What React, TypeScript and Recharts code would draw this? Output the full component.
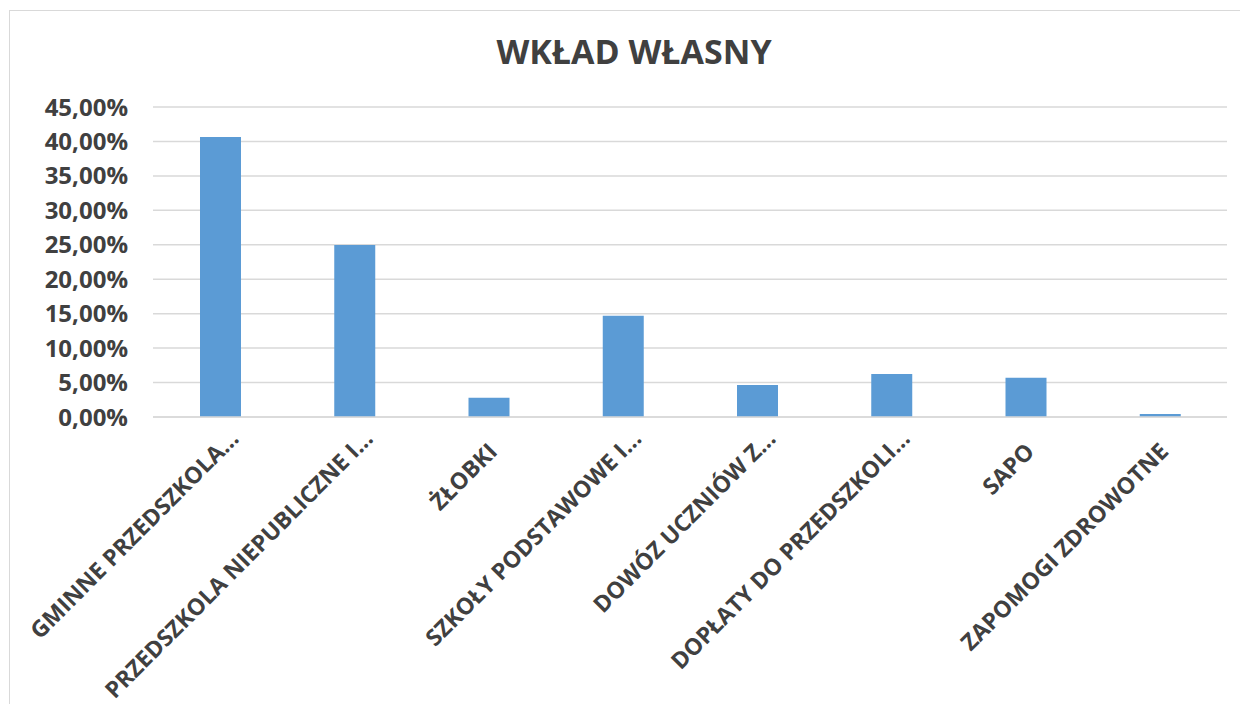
import React from "react";
import { BarChart, Bar, XAxis, YAxis, CartesianGrid } from "recharts";

const categories = [
  "GMINNE PRZEDSZKOLA...",
  "PRZEDSZKOLA NIEPUBLICZNE I...",
  "ŻŁOBKI",
  "SZKOŁY PODSTAWOWE I...",
  "DOWÓZ UCZNIÓW Z...",
  "DOPŁATY DO PRZEDSZKOLI...",
  "SAPO",
  "ZAPOMOGI ZDROWOTNE",
];

const shares = [40.65, 24.95, 2.8, 14.7, 4.65, 6.25, 5.7, 0.45];

const yTicks = [0, 5, 10, 15, 20, 25, 30, 35, 40, 45];

const data = categories.map((name, i) => ({ name, value: shares[i] }));

const textColor = "#404040";
const font = "'Open Sans', 'DejaVu Sans', sans-serif";

const formatPercent = (v: number) => v.toFixed(2).replace(".", ",") + "%";

// rotated category label; Excel pushes truncated labels a bit differently
const CategoryTick = (props: any) => {
  const { x, y, payload } = props;
  const label: string = payload.value;
  const truncated = label.endsWith("...");
  const dx = truncated ? 20 : 10;
  const dy = truncated ? 23 : 36;
  return (
    <text
      transform={`translate(${x + dx}, ${y + dy}) rotate(-45)`}
      textAnchor="end"
      fill={textColor}
      fontFamily={font}
      fontWeight={700}
      fontSize={23}
    >
      {label}
    </text>
  );
};

export default function App() {
  return (
    <div
      style={{
        position: "absolute",
        left: 0,
        top: 0,
        width: 1240,
        height: 704,
        overflow: "hidden",
        background: "#fff",
      }}
    >
      <div
        style={{
          position: "absolute",
          left: 9,
          top: 10,
          width: 1260,
          height: 720,
          border: "1.5px solid #d9d9d9",
          boxSizing: "border-box",
        }}
      />
      <div
        style={{
          position: "absolute",
          left: 0,
          top: 35,
          width: 1268,
          textAlign: "center",
          fontFamily: font,
          fontWeight: 700,
          fontSize: 34,
          lineHeight: "33px",
          color: textColor,
        }}
      >
        WKŁAD WŁASNY
      </div>
      <div style={{ position: "absolute", left: 0, top: 0 }}>
        <BarChart
          width={1240}
          height={704}
          data={data}
          margin={{ top: 107, right: 13, bottom: 0, left: 0 }}
        >
          <CartesianGrid vertical={false} stroke="#d9d9d9" strokeWidth={1.5} />
          <XAxis
            dataKey="name"
            interval={0}
            tickLine={false}
            tickSize={0}
            tickMargin={0}
            axisLine={{ stroke: "#d9d9d9", strokeWidth: 1.5 }}
            tick={<CategoryTick />}
            height={287}
          />
          <YAxis
            width={153}
            domain={[0, 45]}
            ticks={yTicks}
            tickFormatter={formatPercent}
            axisLine={false}
            tickLine={false}
            tickSize={0}
            tickMargin={25}
            tick={{
              fill: textColor,
              fontFamily: font,
              fontWeight: 700,
              fontSize: 24,
            }}
          />
          <Bar
            dataKey="value"
            fill="#5B9BD5"
            barSize={41}
            isAnimationActive={false}
          />
        </BarChart>
      </div>
    </div>
  );
}
